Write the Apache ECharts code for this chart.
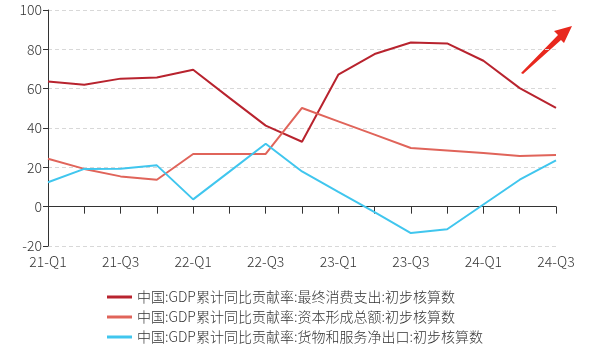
<!DOCTYPE html>
<html><head><meta charset="utf-8">
<script src="https://cdn.jsdelivr.net/npm/echarts@6/dist/echarts.min.js"></script>
<style>html,body{margin:0;padding:0;background:#fff}#c{width:589px;height:359px}</style>
</head><body><div id="c"></div>
<script>
const categories = ['21-Q1','21-Q2','21-Q3','21-Q4','22-Q1','22-Q2','22-Q3','22-Q4','23-Q1','23-Q2','23-Q3','23-Q4','24-Q1','24-Q2','24-Q3'];
const consumption = [63.7,62.0,65.1,65.7,69.6,55.3,41.2,33.0,67.1,77.6,83.5,83.0,74.2,60.3,50.2];
const capital = [24.4,19.2,15.4,13.7,26.8,26.8,26.8,50.2,43.4,36.6,29.8,28.6,27.3,25.8,26.3];
const netExports = [12.4,19.2,19.3,21.0,3.7,17.8,32.0,17.9,7.5,-2.8,-13.4,-11.5,1.1,13.7,23.5];
const seriesNames = ['中国:GDP累计同比贡献率:最终消费支出:初步核算数','中国:GDP累计同比贡献率:资本形成总额:初步核算数','中国:GDP累计同比贡献率:货物和服务净出口:初步核算数'];
const yTicks = {min:-20,max:100,interval:20};

const chart = echarts.init(document.getElementById('c'));
const font = '"Noto Sans CJK SC", "Noto Sans", sans-serif';
const mk = (name,data,color)=>({name,type:'line',data,symbol:'none',smooth:false,lineStyle:{color,width:2},itemStyle:{color}});
chart.setOption({
  animation:false,
  textStyle:{fontFamily:font},
  grid:{left:48,right:33,top:10,bottom:113},
  legend:{orient:'vertical',left:102,top:285,itemGap:6,itemWidth:25,itemHeight:3,icon:'rect',
    textStyle:{fontSize:14,color:'#333',fontFamily:font,fontWeight:300}},
  xAxis:{type:'category',data:categories,boundaryGap:false,
    axisLine:{lineStyle:{color:'#333',width:1}},
    axisTick:{show:true,interval:0,length:7,lineStyle:{color:'#333'}},
    axisLabel:{interval:1,color:'#333',fontSize:14,margin:9,fontFamily:font,fontWeight:300}},
  yAxis:{type:'value',min:yTicks.min,max:yTicks.max,interval:yTicks.interval,
    axisLine:{show:true,lineStyle:{color:'#333'}},
    axisTick:{show:true,length:5,lineStyle:{color:'#333'}},
    axisLabel:{color:'#333',fontSize:14,margin:6,fontFamily:font,fontWeight:300},
    splitLine:{lineStyle:{color:'#d8d8d8',type:[4,3]}}},
  series:[mk(seriesNames[0],consumption,'#b8232e'),mk(seriesNames[1],capital,'#e0645a'),mk(seriesNames[2],netExports,'#40c6ee')],
  graphic:[{type:'polygon',shape:{points:[[521,73],[523,74],[561,40],[564,43],[572,26],[554,31],[558,35]]},style:{fill:'#e8281e'}}]
});
</script></body></html>
